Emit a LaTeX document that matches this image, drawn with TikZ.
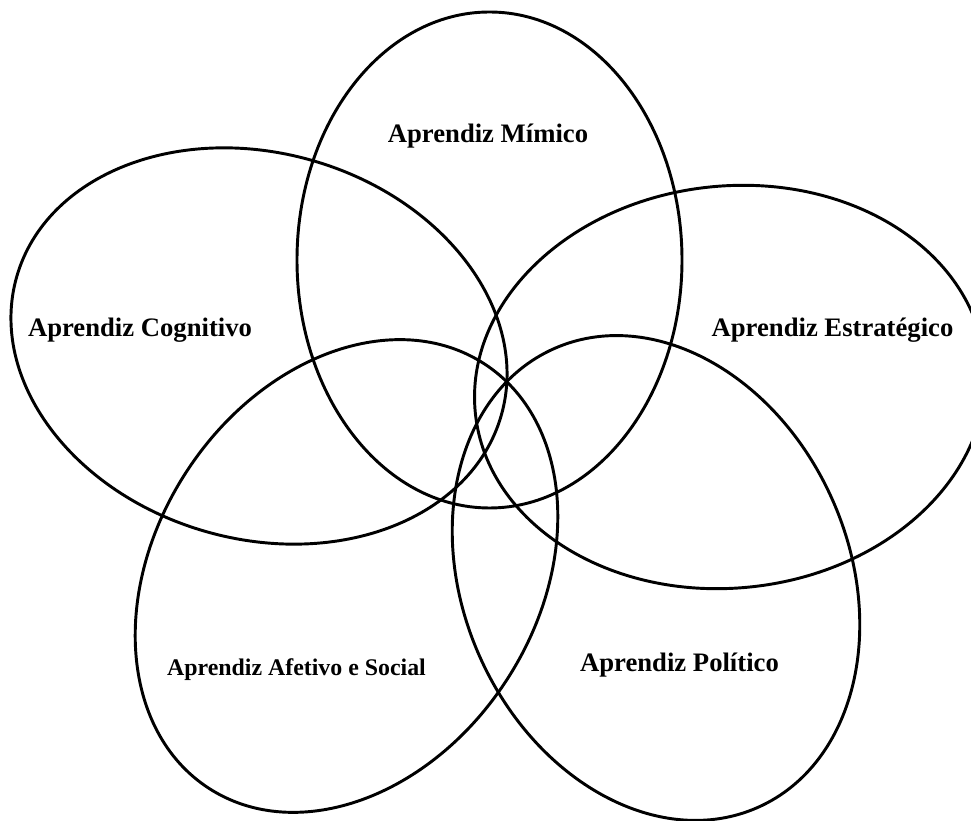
\documentclass[tikz,border=0pt]{standalone}
\usepackage{fontspec}
\setmainfont{Liberation Serif}
\begin{document}
\begin{tikzpicture}[x=0.75pt,y=0.75pt,
  petal/.style={draw=black,line width=2.2pt},
  label/.style={anchor=base,inner sep=0pt,font=\fontsize{20}{24}\selectfont\bfseries},
  smalllabel/.style={label,font=\fontsize{17.9}{21}\selectfont\bfseries}]
  \useasboundingbox (0,0) rectangle (971,821);
  \clip (0,0) rectangle (971,821);
  % five overlapping learner profiles
  \draw[petal] (489.5,561) ellipse [x radius=192.5,y radius=248];
  \draw[petal,rotate around={-16:(259,475)}] (259,475) ellipse [x radius=252,y radius=193];
  \draw[petal,rotate around={6:(730,434)}] (730,434) ellipse [x radius=256,y radius=201];
  \draw[petal,rotate around={57:(346.5,245)}] (346.5,245) ellipse [x radius=253,y radius=191];
  \draw[petal,rotate around={-66:(656,243)}] (656,243) ellipse [x radius=251,y radius=193];
  % labels
  \node[label] (mimico) at (488,678) {Aprendiz Mímico};
  \node[label] (cognitivo) at (140,484) {Aprendiz Cognitivo};
  \node[label] (estrategico) at (832.5,484) {Aprendiz Estratégico};
  \node[smalllabel] (afetivo) at (296.5,145) {Aprendiz Afetivo e Social};
  \node[label] (politico) at (679.5,149) {Aprendiz Político};
\end{tikzpicture}
\end{document}
